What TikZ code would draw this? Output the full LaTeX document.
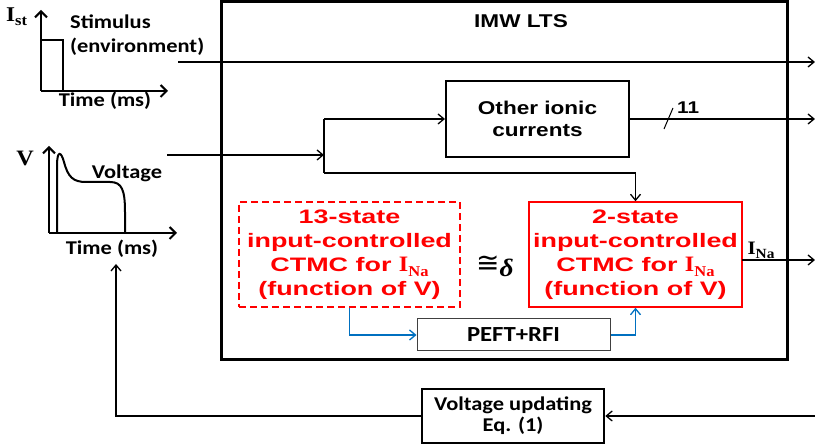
\documentclass[tikz,border=0pt]{standalone}
\usepackage{fontspec}
\usetikzlibrary{arrows.meta}
\newfontfamily\arialf[FakeStretch=1.22]{Liberation Sans}
\newfontfamily\redf[FakeStretch=1.38]{Liberation Sans}
\newfontfamily\calib[FakeStretch=1.15]{Carlito}
\newfontfamily\serifb[FakeStretch=1.1]{Liberation Serif}
\newfontfamily\dejav{DejaVu Sans}
\definecolor{myred}{RGB}{255,0,0}
\definecolor{myblue}{RGB}{0,112,192}
\definecolor{mygray}{RGB}{64,64,64}
\newcommand{\fs}[2]{\fontsize{#1}{#2}\selectfont}
\newcommand{\Isub}[4]{{\serifb\bfseries\fs{#1}{#1}I\raisebox{#4}{\fs{#2}{#2}#3}}}
\begin{document}
\begin{tikzpicture}[x=1pt,y=-1pt,
  arr/.style={-{Straight Barb[length=6pt,width=10pt]}, line width=1.3pt},
  plain/.style={line width=1.3pt},
  barr/.style={-{Straight Barb[length=6pt,width=10pt]}, line width=1.3pt, draw=myblue},
  axis/.style={-{Straight Barb[length=6pt,width=12pt,line width=2pt]}, line width=2.3pt},
  boxA/.style={draw, inner sep=0pt, align=center},
  redtxt/.style={text=myred, font={\redf\bfseries\fs{19.5}{24}}, align=center},
  caltxt/.style={font={\calib\bfseries\fs{19.5}{24}}},
  arialtxt/.style={font={\arialf\bfseries\fs{18.5}{22}}}
]
\useasboundingbox (0,0) rectangle (815,446);

% big LTS box
\node[boxA, line width=3pt, minimum width=566pt, minimum height=358pt] (lts) at (504,180.5) {};
\node[arialtxt] (ltslabel) at (521,21) {IMW LTS};

% boxes
\node[boxA, arialtxt, line width=2pt, minimum width=183pt, minimum height=76pt] (other) at (537.5,119) {Other ionic\\currents};
\node[boxA, redtxt, draw=myred, line width=1.5pt, dash pattern=on 7pt off 4pt, minimum width=221pt, minimum height=105pt] (redL) at (349.5,254.5) {13-state\\input-controlled\\CTMC for \Isub{22}{15}{Na}{-5pt}\\(function of V)};
\node[boxA, redtxt, draw=myred, line width=1.5pt, minimum width=213pt, minimum height=105pt] (redR) at (635.5,254.5) {2-state\\input-controlled\\CTMC for \Isub{22}{15}{Na}{-5pt}\\(function of V)};
\node[boxA, draw=mygray, line width=1pt, font={\calib\bfseries\fs{21.5}{24}}, minimum width=193pt, minimum height=32pt] (peft) at (513.5,335) {PEFT+RFI};
\node[boxA, line width=2.5pt, font={\calib\bfseries\fs{19.5}{21}}, minimum width=182pt, minimum height=54pt] (vup) at (513,416) {Voltage updating\\Eq. (1)};

\node (approx) at (495,266) {{\dejav\fs{28}{28}≅}{\serifb\bfseries\itshape\fs{25}{25}\raisebox{-4pt}{δ}}};

% left plots
\coordinate (o1) at (41,91);
\coordinate (y1) at (41,10);
\coordinate (x1) at (168,91);
\draw[axis] (o1) -- (y1);
\draw[axis] (o1) -- (x1);
\draw[line width=2pt] (41,40) -- (63,40) -- (63,91);
\node[anchor=west, inner sep=0pt] (ist) at (6,17) {\Isub{21}{15}{st}{-4pt}};
\node[caltxt, anchor=west, align=left, inner sep=0pt] (stimlab) at (70,35) {Stimulus\\(environment)};
\node[caltxt, inner sep=0pt] (time1) at (105,101) {Time (ms)};

\coordinate (o2) at (49,233);
\coordinate (y2) at (49,146);
\coordinate (x2) at (177,233);
\draw[axis] (o2) -- (y2);
\draw[axis] (o2) -- (x2);
\draw[line width=2pt] (57,233) -- (57,166) .. controls (57,150) and (61,151) .. (64,162) .. controls (68,177) and (73,182) .. (86,182) -- (110,182) .. controls (122,182) and (125,190) .. (125,212) -- (125,233);
\node[inner sep=0pt] (vlab) at (25,158) {{\serifb\bfseries\fs{22}{22}V}};
\node[caltxt, inner sep=0pt] (voltlab) at (127,173) {Voltage};
\node[caltxt, inner sep=0pt] (time2) at (112,249) {Time (ms)};

% connectors
\coordinate (stimS) at (178,62);
\coordinate (stimE) at (815,62);
\draw[arr] (stimS) -- (stimE);

\coordinate (vS) at (167,155);
\coordinate (jn) at (324,155);
\coordinate (jt) at (324,119);
\coordinate (jb) at (324,173);
\draw[arr] (vS) -- (jn);
\draw[plain] (jt) -- (jb);
\draw[arr] (jt) -- (other.west);
\draw[arr] (jb) -| (redR.north);

\coordinate (ionE) at (815,119);
\draw[arr] (other.east) -- (ionE);
\coordinate (sl1) at (664,129);
\coordinate (sl2) at (673,108);
\draw[line width=1pt] (sl1) -- (sl2);
\node[font={\arialf\bfseries\fs{17}{17}}, anchor=west, inner sep=0pt] (eleven) at (677,108) {11};

\coordinate (inaS) at (742,260);
\coordinate (inaE) at (815,260);
\draw[arr] (inaS) -- (inaE);
\node[inner sep=0pt] (inalab) at (761,250) {\Isub{19}{14}{Na}{-4pt}};

\draw[barr] (redL.south) |- (peft.west);
\draw[barr] (peft.east) -| (redR.south);

\coordinate (fbS) at (815,416);
\coordinate (fbT) at (116,264);
\draw[arr] (fbS) -- (vup.east);
\draw[arr] (vup.west) -| (fbT);
\end{tikzpicture}
\end{document}
